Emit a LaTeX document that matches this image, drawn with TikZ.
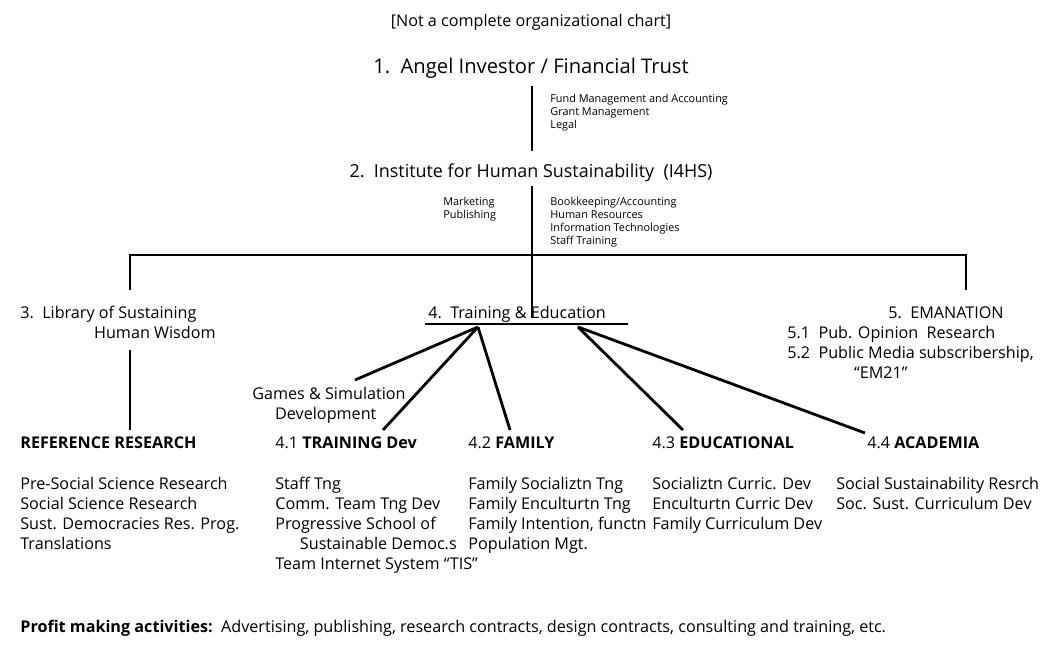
\documentclass[tikz,border=0pt]{standalone}
\usepackage{fontspec}
\setmainfont{Open Sans}
\begin{document}
\begin{tikzpicture}[x=0.02cm,y=-0.02cm,
  txt/.style={anchor=north west,inner sep=0pt,font=\fontsize{9.2}{11.4}\selectfont,align=left},
  big/.style={anchor=base,inner sep=0pt,font=\fontsize{11.5}{13}\selectfont},
  small/.style={anchor=north west,inner sep=0pt,font=\fontsize{6.2}{7.4}\selectfont,align=left},
  bar/.style={line width=1.6pt}]
  \useasboundingbox (0,0) rectangle (1052,665);
  % headings
  \node[big,font=\fontsize{9.2}{10}\selectfont] (note) at (531,27) {[Not a complete organizational chart]};
  \node[big] (angel) at (531,74) {1.\ \ Angel Investor / Financial Trust};
  \node[big,font=\fontsize{10.2}{11}\selectfont] (ihs) at (531,178) {2.\ \ Institute for Human Sustainability\ \ (I4HS)};
  \node[small] (fund) at (550,94) {Fund Management and Accounting\\Grant Management\\Legal};
  \node[small] (mkt) at (443,197) {Marketing\\Publishing};
  \node[small] (book) at (550,197) {Bookkeeping/Accounting\\Human Resources\\Information Technologies\\Staff Training};
  % tree
  \coordinate (t1) at (532,86);
  \coordinate (t2) at (532,151);
  \coordinate (t3) at (532,186);
  \coordinate (hub) at (532,255);
  \coordinate (lft) at (130,255);
  \coordinate (rgt) at (966,255);
  \draw[bar] (t1) -- (t2);
  \draw[bar] (t3) -- (hub);
  \draw[bar] (130,290) -- (lft) -- (rgt) -- (966,290);
  \draw[bar] (hub) -- (532,318);
  % level 3
  \node[txt] (lib) at (20,306) {3.\ \ Library of Sustaining\\\hspace*{42pt}Human Wisdom};
  \node[txt] (te) at (428,306) {4.\ \ Training \& Education};
  \draw[line width=1.3pt] (425,324) coordinate (ua) -- (628,324) coordinate (ub);
  \node[txt] (em) at (888,306) {5.\ \ EMANATION};
  \node[txt] (em1) at (787,326) {5.1\ \ Pub. Opinion\ \ Research\\5.2\ \ Public Media subscribership,\\\hspace*{38pt}``EM21''};
  \draw[bar] (130,350) -- (130,430);
  % branches
  \coordinate (ha) at (478,327);
  \coordinate (hb) at (578,327);
  \draw[bar] (ha) -- (355,380);
  \draw[bar] (ha) -- (383,430);
  \draw[bar] (ha) -- (510,430);
  \draw[bar] (hb) -- (683,430);
  \draw[bar] (hb) -- (865,433);
  \node[txt] (games) at (252,387) {Games \& Simulation\\\hspace*{13pt}Development};
  % level 4
  \node[txt] (ref) at (20,436) {\textbf{REFERENCE RESEARCH}};
  \node[txt] (tr) at (275,436) {4.1 \textbf{TRAINING Dev}};
  \node[txt] (fam) at (468,436) {4.2 \textbf{FAMILY}};
  \node[txt] (edu) at (652,436) {4.3 \textbf{EDUCATIONAL}};
  \node[txt] (aca) at (867,436) {4.4 \textbf{ACADEMIA}};
  \node[txt] (refl) at (20,477) {Pre-Social Science Research\\Social Science Research\\Sust. Democracies Res. Prog.\\Translations};
  \node[txt] (trl) at (275,477) {Staff Tng\\Comm. Team Tng Dev\\Progressive School of\\\hspace*{14pt}Sustainable Democ.s\\Team Internet System ``TIS''};
  \node[txt] (faml) at (468,477) {Family Socializtn Tng\\Family Enculturtn Tng\\Family Intention, functn\\Population Mgt.};
  \node[txt] (edul) at (652,477) {Socializtn Curric. Dev\\Enculturtn Curric Dev\\Family Curriculum Dev};
  \node[txt] (acal) at (836,477) {Social Sustainability Resrch\\Soc. Sust. Curriculum Dev};
  \node[txt] (profit) at (20,620) {\textbf{Profit making activities:}\ \ Advertising, publishing, research contracts, design contracts, consulting and training, etc.};
\end{tikzpicture}
\end{document}
